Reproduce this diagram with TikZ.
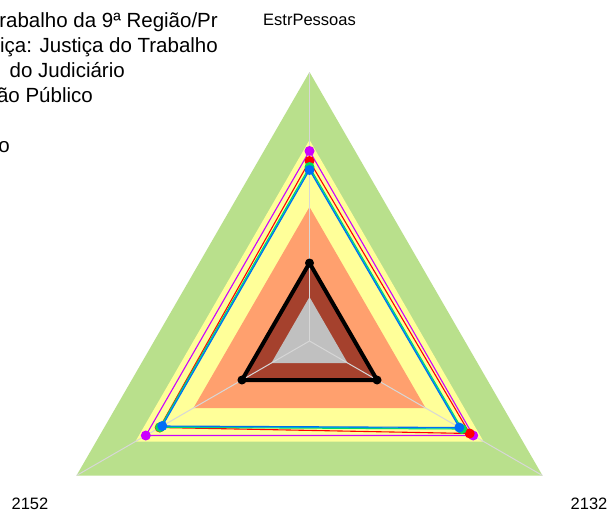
\documentclass[tikz,border=0pt]{standalone}
\usepackage{fontspec}
\setmainfont{Liberation Sans}
\definecolor{bandgreen}{RGB}{185,224,140}
\definecolor{bandyellow}{RGB}{255,255,153}
\definecolor{bandorange}{RGB}{255,160,110}
\definecolor{bandbrown}{RGB}{165,65,45}
\definecolor{bandgrey}{RGB}{192,192,192}
\definecolor{axisgrey}{RGB}{215,215,215}
\definecolor{sermag}{RGB}{204,0,255}
\definecolor{serred}{RGB}{255,0,0}
\definecolor{sergreen}{RGB}{0,220,90}
\definecolor{sercyan}{RGB}{0,190,200}
\definecolor{serblue}{RGB}{0,110,245}
\begin{document}
\begin{tikzpicture}[x=1pt,y=-1pt,
  band/.style={fill=#1,draw=none},
  axisline/.style={draw=axisgrey,line width=1pt},
  serline/.style={draw=#1,line width=1.1pt,line join=miter},
  mk/.style={fill=#1,draw=none},
  lbl/.style={font=\fontsize{16.5}{20}\selectfont,inner sep=0pt,anchor=base},
  ttl/.style={font=\fontsize{20.5}{25}\selectfont,inner sep=0pt,anchor=base east}]

\useasboundingbox[fill=white] (0,0) rectangle (609,514);

% title fragments (clipped at left edge)
\node[ttl] (t1) at (218,27) {rabalho da 9ª Região/Pr};
\node[ttl] (t2) at (218,52) {iça: Justiça do Trabalho};
\node[ttl] (t3) at (125,77) {do Judiciário};
\node[ttl] (t4) at (93,102) {ão Público};
\node[ttl] (t5) at (10,152) {o};

% axis labels
\node[lbl] (l1) at (309.5,25) {EstrPessoas};
\node[lbl] (l2) at (589,509) {2132};
\node[lbl] (l3) at (30,509) {2152};

\begin{scope}[shift={(309.5,341)}]
\coordinate (C) at (0,0);
% bands
\fill[bandgreen]  (-90:269) -- (30:269) -- (150:269) -- cycle;
\fill[bandyellow] (-90:201) -- (30:201) -- (150:201) -- cycle;
\fill[bandorange] (-90:134) -- (30:134) -- (150:134) -- cycle;
\fill[bandbrown]  (-90:80) -- (30:80) -- (150:80) -- cycle;
\fill[bandgrey]   (-90:44) -- (30:44) -- (150:44) -- cycle;
% axes
\coordinate (A1) at (-90:269);
\coordinate (A2) at (30:269);
\coordinate (A3) at (150:269);
\draw[axisline] (C) -- (A1);
\draw[axisline] (C) -- (A2);
\draw[axisline] (C) -- (A3);

% series: magenta
\coordinate (M1) at (-90:190);
\coordinate (M2) at (30:189);
\coordinate (M3) at (150:189);
% red
\coordinate (R1) at (-90:180);
\coordinate (R2) at (30:185);
\coordinate (R3) at (150:173);
% green
\coordinate (G1) at (-90:174);
\coordinate (G2) at (30:176);
\coordinate (G3) at (150:172.5);
% cyan
\coordinate (Y1) at (-90:172);
\coordinate (Y2) at (30:174.5);
\coordinate (Y3) at (150:171);
% blue
\coordinate (B1) at (-90:171);
\coordinate (B2) at (30:173);
\coordinate (B3) at (150:170);
% black
\coordinate (K1) at (-90:78);
\coordinate (K2) at (30:78);
\coordinate (K3) at (150:78);

\draw[serline=sermag] (M1) -- (M2) -- (M3) -- cycle;
\draw[serline=serred] (R1) -- (R2) -- (R3) -- cycle;
\draw[serline=sergreen] (G1) -- (G2) -- (G3) -- cycle;
\draw[serline=sercyan] (Y1) -- (Y2) -- (Y3) -- cycle;
\draw[serline=serblue] (B1) -- (B2) -- (B3) -- cycle;

\foreach \p in {M1,M2,M3} \fill[mk=sermag] (\p) circle (5pt);
\foreach \p in {R1,R2,R3} \fill[mk=serred] (\p) circle (5pt);
\foreach \p in {G1,G2,G3} \fill[mk=sergreen] (\p) circle (5pt);
\foreach \p in {B1,B2,B3} \fill[mk=serblue] (\p) circle (5pt);

\draw[line width=4pt,line join=miter] (K1) -- (K2) -- (K3) -- cycle;
\foreach \p in {K1,K2,K3} \fill (\p) circle (4.5pt);
\end{scope}
\end{tikzpicture}
\end{document}
